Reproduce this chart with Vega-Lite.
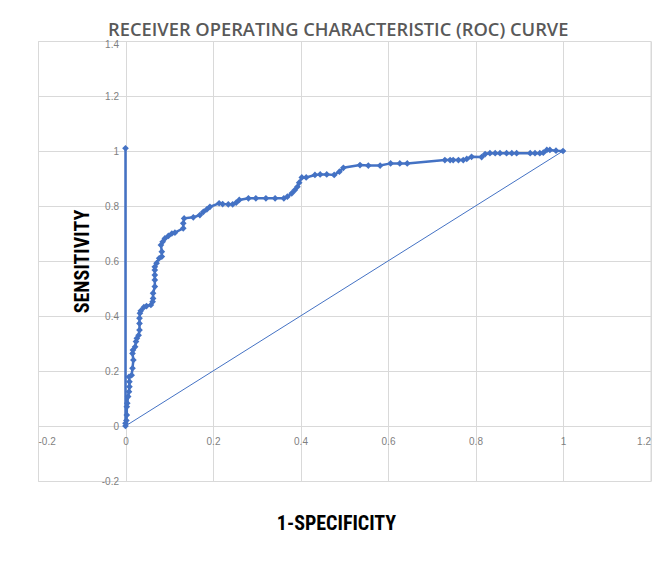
{
  "$schema": "https://vega.github.io/schema/vega-lite/v6.json",
  "autosize": {"type": "none"},
  "width": 612.5,
  "height": 440,
  "padding": {"left": 38, "top": 41, "right": 10.5, "bottom": 87},
  "background": "white",
  "title": {
    "text": "RECEIVER OPERATING CHARACTERISTIC (ROC) CURVE",
    "font": "Open Sans, sans-serif",
    "fontSize": 18.3,
    "fontWeight": 600,
    "color": "#595959",
    "anchor": "middle",
    "baseline": "alphabetic",
    "offset": 4,
    "dx": -6,
    "dy": 19,
    "limit": 640
  },
  "config": {
    "view": {"stroke": "#d9d9d9", "strokeWidth": 1},
    "axis": {
      "gridColor": "#d9d9d9",
      "gridWidth": 1,
      "domain": false,
      "ticks": false,
      "labelFont": "Liberation Sans, sans-serif",
      "labelFontSize": 10,
      "labelColor": "#7f7f7f",
      "labelExpr": "'' + datum.value",
      "titleFont": "Liberation Sans Narrow, Roboto Condensed, Arial Narrow, sans-serif",
      "titleFontSize": 20,
      "titleFontWeight": "bold",
      "titleColor": "#000000"
    }
  },
  "datasets": {
    "roc": [
      {"order": 1, "fpr": 0, "tpr": 1.01},
      {"order": 2, "fpr": 0, "tpr": 0},
      {"order": 3, "fpr": 0, "tpr": 0.01},
      {"order": 4, "fpr": 0.002, "tpr": 0.02},
      {"order": 5, "fpr": 0.003, "tpr": 0.04},
      {"order": 6, "fpr": 0.003, "tpr": 0.07},
      {"order": 7, "fpr": 0.004, "tpr": 0.083},
      {"order": 8, "fpr": 0.006, "tpr": 0.107},
      {"order": 9, "fpr": 0.008, "tpr": 0.125},
      {"order": 10, "fpr": 0.009, "tpr": 0.143},
      {"order": 11, "fpr": 0.009, "tpr": 0.161},
      {"order": 12, "fpr": 0.008, "tpr": 0.179},
      {"order": 13, "fpr": 0.014, "tpr": 0.185},
      {"order": 14, "fpr": 0.016, "tpr": 0.21},
      {"order": 15, "fpr": 0.018, "tpr": 0.24},
      {"order": 16, "fpr": 0.016, "tpr": 0.264},
      {"order": 17, "fpr": 0.017, "tpr": 0.276},
      {"order": 18, "fpr": 0.022, "tpr": 0.288},
      {"order": 19, "fpr": 0.024, "tpr": 0.307},
      {"order": 20, "fpr": 0.026, "tpr": 0.319},
      {"order": 21, "fpr": 0.03, "tpr": 0.33},
      {"order": 22, "fpr": 0.032, "tpr": 0.349},
      {"order": 23, "fpr": 0.032, "tpr": 0.373},
      {"order": 24, "fpr": 0.032, "tpr": 0.392},
      {"order": 25, "fpr": 0.033, "tpr": 0.41},
      {"order": 26, "fpr": 0.035, "tpr": 0.419},
      {"order": 27, "fpr": 0.042, "tpr": 0.432},
      {"order": 28, "fpr": 0.048, "tpr": 0.436},
      {"order": 29, "fpr": 0.058, "tpr": 0.44},
      {"order": 30, "fpr": 0.062, "tpr": 0.452},
      {"order": 31, "fpr": 0.063, "tpr": 0.464},
      {"order": 32, "fpr": 0.063, "tpr": 0.483},
      {"order": 33, "fpr": 0.067, "tpr": 0.507},
      {"order": 34, "fpr": 0.067, "tpr": 0.531},
      {"order": 35, "fpr": 0.067, "tpr": 0.549},
      {"order": 36, "fpr": 0.067, "tpr": 0.567},
      {"order": 37, "fpr": 0.067, "tpr": 0.579},
      {"order": 38, "fpr": 0.071, "tpr": 0.592},
      {"order": 39, "fpr": 0.077, "tpr": 0.61},
      {"order": 40, "fpr": 0.083, "tpr": 0.616},
      {"order": 41, "fpr": 0.083, "tpr": 0.634},
      {"order": 42, "fpr": 0.081, "tpr": 0.658},
      {"order": 43, "fpr": 0.085, "tpr": 0.67},
      {"order": 44, "fpr": 0.09, "tpr": 0.682},
      {"order": 45, "fpr": 0.098, "tpr": 0.691},
      {"order": 46, "fpr": 0.106, "tpr": 0.7},
      {"order": 47, "fpr": 0.113, "tpr": 0.703},
      {"order": 48, "fpr": 0.132, "tpr": 0.719},
      {"order": 49, "fpr": 0.132, "tpr": 0.737},
      {"order": 50, "fpr": 0.134, "tpr": 0.755},
      {"order": 51, "fpr": 0.155, "tpr": 0.759},
      {"order": 52, "fpr": 0.17, "tpr": 0.767},
      {"order": 53, "fpr": 0.178, "tpr": 0.779},
      {"order": 54, "fpr": 0.186, "tpr": 0.788},
      {"order": 55, "fpr": 0.193, "tpr": 0.797},
      {"order": 56, "fpr": 0.214, "tpr": 0.81},
      {"order": 57, "fpr": 0.222, "tpr": 0.807},
      {"order": 58, "fpr": 0.235, "tpr": 0.806},
      {"order": 59, "fpr": 0.245, "tpr": 0.806},
      {"order": 60, "fpr": 0.253, "tpr": 0.812},
      {"order": 61, "fpr": 0.26, "tpr": 0.822},
      {"order": 62, "fpr": 0.281, "tpr": 0.828},
      {"order": 63, "fpr": 0.298, "tpr": 0.828},
      {"order": 64, "fpr": 0.321, "tpr": 0.828},
      {"order": 65, "fpr": 0.342, "tpr": 0.828},
      {"order": 66, "fpr": 0.362, "tpr": 0.828},
      {"order": 67, "fpr": 0.37, "tpr": 0.834},
      {"order": 68, "fpr": 0.38, "tpr": 0.846},
      {"order": 69, "fpr": 0.387, "tpr": 0.858},
      {"order": 70, "fpr": 0.393, "tpr": 0.87},
      {"order": 71, "fpr": 0.397, "tpr": 0.885},
      {"order": 72, "fpr": 0.403, "tpr": 0.904},
      {"order": 73, "fpr": 0.413, "tpr": 0.904},
      {"order": 74, "fpr": 0.433, "tpr": 0.913},
      {"order": 75, "fpr": 0.445, "tpr": 0.915},
      {"order": 76, "fpr": 0.46, "tpr": 0.915},
      {"order": 77, "fpr": 0.477, "tpr": 0.913},
      {"order": 78, "fpr": 0.489, "tpr": 0.925},
      {"order": 79, "fpr": 0.498, "tpr": 0.939},
      {"order": 80, "fpr": 0.536, "tpr": 0.949},
      {"order": 81, "fpr": 0.555, "tpr": 0.947},
      {"order": 82, "fpr": 0.582, "tpr": 0.947},
      {"order": 83, "fpr": 0.606, "tpr": 0.955},
      {"order": 84, "fpr": 0.627, "tpr": 0.955},
      {"order": 85, "fpr": 0.644, "tpr": 0.955},
      {"order": 86, "fpr": 0.73, "tpr": 0.967},
      {"order": 87, "fpr": 0.742, "tpr": 0.967},
      {"order": 88, "fpr": 0.749, "tpr": 0.967},
      {"order": 89, "fpr": 0.761, "tpr": 0.967},
      {"order": 90, "fpr": 0.772, "tpr": 0.967},
      {"order": 91, "fpr": 0.78, "tpr": 0.971},
      {"order": 92, "fpr": 0.791, "tpr": 0.979},
      {"order": 93, "fpr": 0.814, "tpr": 0.978},
      {"order": 94, "fpr": 0.822, "tpr": 0.989},
      {"order": 95, "fpr": 0.833, "tpr": 0.992},
      {"order": 96, "fpr": 0.845, "tpr": 0.992},
      {"order": 97, "fpr": 0.856, "tpr": 0.992},
      {"order": 98, "fpr": 0.871, "tpr": 0.992},
      {"order": 99, "fpr": 0.883, "tpr": 0.992},
      {"order": 100, "fpr": 0.894, "tpr": 0.992},
      {"order": 101, "fpr": 0.925, "tpr": 0.992},
      {"order": 102, "fpr": 0.936, "tpr": 0.992},
      {"order": 103, "fpr": 0.947, "tpr": 0.992},
      {"order": 104, "fpr": 0.955, "tpr": 0.994},
      {"order": 105, "fpr": 0.963, "tpr": 1.004},
      {"order": 106, "fpr": 0.97, "tpr": 1.004},
      {"order": 107, "fpr": 0.984, "tpr": 1.001},
      {"order": 108, "fpr": 1, "tpr": 1}
    ],
    "diag": [
      {"order": 1, "fpr": 0, "tpr": 0},
      {"order": 2, "fpr": 1, "tpr": 1}
    ]
  },
  "encoding": {
    "x": {
      "field": "fpr",
      "type": "quantitative",
      "scale": {"domain": [-0.2, 1.2], "nice": false, "zero": false},
      "axis": {
        "values": [-0.2, 0, 0.2, 0.4, 0.6, 0.8, 1, 1.2],
        "offset": -55,
        "labelPadding": 10,
        "title": "1-SPECIFICITY",
        "titlePadding": 67,
        "titleX": 298
      }
    },
    "y": {
      "field": "tpr",
      "type": "quantitative",
      "scale": {"domain": [-0.2, 1.4], "nice": false, "zero": false},
      "axis": {
        "values": [-0.2, 0, 0.2, 0.4, 0.6, 0.8, 1, 1.2, 1.4],
        "offset": -87.5,
        "labelPadding": 7,
        "labelBaseline": {"condition": {"test": "datum.value == 1.4", "value": "top"}, "value": "middle"},
        "labelOffset": {"condition": {"test": "datum.value == 1.4", "value": -2}, "value": 0},
        "title": "SENSITIVITY",
        "titlePadding": 9
      }
    },
    "order": {"field": "order", "type": "quantitative"}
  },
  "layer": [
    {
      "data": {"name": "diag"},
      "mark": {"type": "line", "color": "#4472C4", "strokeWidth": 1}
    },
    {
      "data": {"name": "roc"},
      "mark": {
        "type": "line",
        "color": "#4472C4",
        "strokeWidth": 2.5,
        "point": {"shape": "diamond", "size": 45, "filled": true, "color": "#4472C4", "opacity": 1}
      }
    }
  ]
}
